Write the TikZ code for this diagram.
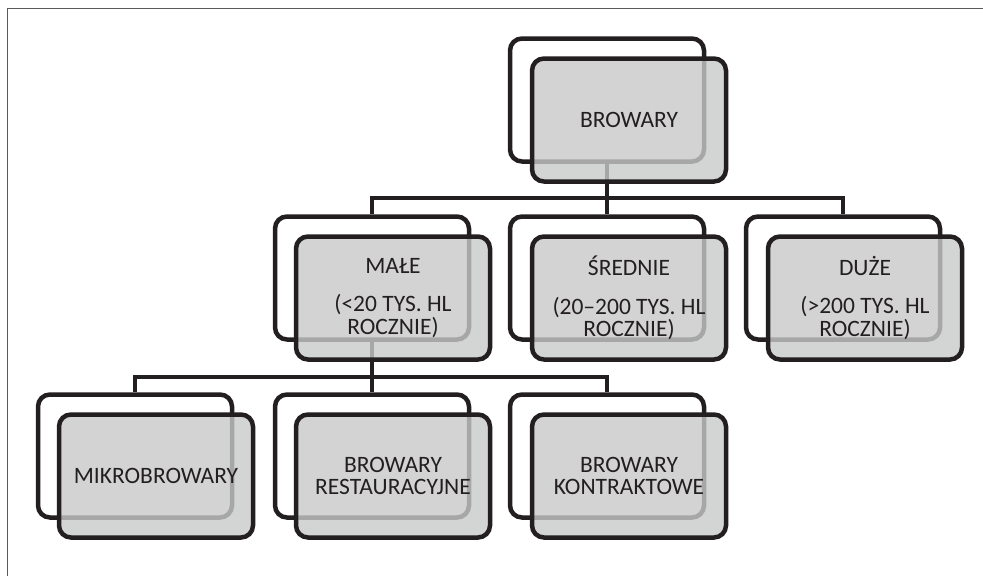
\documentclass[tikz,border=0pt]{standalone}
\usepackage{fontspec}
\setmainfont{Carlito}
\usepackage{xcolor}
\definecolor{ink}{RGB}{35,31,32}
\definecolor{boxgray}{RGB}{200,201,201}
\definecolor{framegray}{RGB}{90,90,90}
\pgfdeclarelayer{bg}
\pgfsetlayers{bg,main}
\tikzset{
  backbox/.style={draw=ink, line width=4.5pt, rounded corners=12pt, fill=white,
    minimum width=194pt, minimum height=123pt, inner sep=0pt},
  frontbox/.style={backbox, fill=boxgray, fill opacity=0.8, text opacity=1,
    text=ink, align=center, font=\fontsize{23.5}{22.5}\selectfont},
  conn/.style={draw=ink, line width=3.5pt},
}

\begin{document}
\begin{tikzpicture}[x=1pt,y=-1pt]
              \useasboundingbox (0,0) rectangle (983,576);
              \draw[framegray, line width=1.5pt] (983,8.5) -- (7.5,8.5) -- (7.5,576);
              % top level
              \node[backbox] (browaryBack) at (607,100) {};
              \node[frontbox] (browary) at (629,120) {BROWARY};
              % second level
              \node[backbox] (maleBack) at (372,278) {};
              \node[frontbox] (male) at (393,298) {MAŁE\\[16pt](<20 TYS. HL\\ROCZNIE)};
              \node[backbox] (srednieBack) at (607,278) {};
              \node[frontbox] (srednie) at (629,298) {ŚREDNIE\\[16pt](20–200 TYS. HL\\ROCZNIE)};
              \node[backbox] (duzeBack) at (843,278) {};
              \node[frontbox] (duze) at (865,298) {DUŻE\\[16pt](>200 TYS. HL\\ROCZNIE)};
              % third level
              \node[backbox] (mikroBack) at (135,456) {};
              \node[frontbox] (mikro) at (156,476) {MIKROBROWARY};
              \node[backbox] (restBack) at (372,456) {};
              \node[frontbox] (rest) at (393,476) {BROWARY\\RESTAURACYJNE};
              \node[backbox] (kontrBack) at (607,456) {};
              \node[frontbox] (kontr) at (629,476) {BROWARY\\KONTRAKTOWE};
              % connectors
              \coordinate (bus1) at (0,198);
              \coordinate (bus2) at (0,377);
              \begin{pgfonlayer}{bg}
              \foreach \kid in {maleBack,srednieBack,duzeBack}
                \draw[conn] (browaryBack.center) |- (bus1 -| \kid.north) -- (\kid.north);
              \foreach \kid in {mikroBack,restBack,kontrBack}
                \draw[conn] (maleBack.center) |- (bus2 -| \kid.north) -- (\kid.north);
              \end{pgfonlayer}
        \end{tikzpicture}
\end{document}
